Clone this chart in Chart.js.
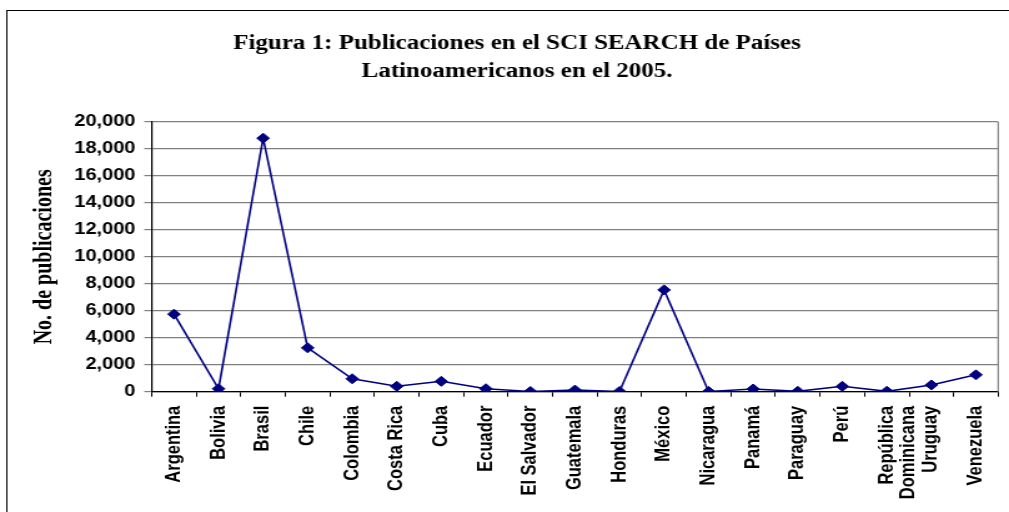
<!DOCTYPE html>
<html>
<head>
<meta charset="utf-8">
<script src="https://cdn.jsdelivr.net/npm/chart.js@4"></script>
<style>
  html, body { margin: 0; padding: 0; background: #ffffff; overflow: hidden; }
  #c { display: block; width: 1009px; height: 512px; }
</style>
</head>
<body>
<canvas id="c" width="808" height="512" style="width:1009px;height:512px;"></canvas>
<script>
// ---- data ----
const categories = [
  'Argentina', 'Bolivia', 'Brasil', 'Chile', 'Colombia', 'Costa Rica', 'Cuba',
  'Ecuador', 'El Salvador', 'Guatemala', 'Honduras', 'México', 'Nicaragua',
  'Panamá', 'Paraguay', 'Perú', ['República', 'Dominicana'], 'Uruguay', 'Venezuela'
];
const publicaciones = [
  5750, 220, 18800, 3250, 960, 400, 770,
  220, 20, 120, 20, 7550, 20,
  200, 30, 400, 30, 500, 1250
];
const yTicksMin = 0;
const yTicksMax = 20000;
const yTicksStep = 2000;
const titleLines = ['Figura 1: Publicaciones en el SCI SEARCH de Países', 'Latinoamericanos en el 2005.'];
const yAxisTitle = 'No. de publicaciones';

// ---- decoration plugin: outer chart border and right plot border ----
const framePlugin = {
  id: 'frame',
  beforeDraw(chart) {
    const ctx = chart.ctx;
    ctx.save();
    ctx.fillStyle = '#ffffff';
    ctx.fillRect(0, 0, chart.width, chart.height);
    ctx.strokeStyle = '#000000';
    ctx.lineWidth = 1;
    ctx.strokeRect(5.5, 10.5, chart.width + 20, chart.height + 20);
    ctx.restore();
  },
  beforeDatasetsDraw(chart) {
    const a = chart.chartArea;
    const ctx = chart.ctx;
    ctx.save();
    ctx.strokeStyle = '#808080';
    ctx.lineWidth = 1.2;
    ctx.beginPath();
    ctx.moveTo(a.right, a.top);
    ctx.lineTo(a.right, a.bottom);
    ctx.stroke();
    ctx.restore();
  }
};

new Chart(document.getElementById('c'), {
  type: 'line',
  data: {
    labels: categories,
    datasets: [{
      data: publicaciones,
      borderColor: '#000080',
      backgroundColor: '#000080',
      borderWidth: 1.6,
      pointStyle: 'rectRot',
      pointRadius: 5,
      pointBorderWidth: 1,
      pointBackgroundColor: '#000080',
      pointBorderColor: '#000080',
      tension: 0,
      fill: false
    }]
  },
  options: {
    responsive: false,
    animation: false,
    devicePixelRatio: 1,
    layout: { padding: { left: 21, right: 1, top: 0, bottom: 0 } },
    plugins: {
      legend: { display: false },
      tooltip: { enabled: false },
      title: {
        display: true,
        text: titleLines,
        color: '#000000',
        font: { family: 'Liberation Serif', size: 20, weight: 'bold', lineHeight: 1.4 },
        padding: { top: 29.5, bottom: 36.5 }
      }
    },
    scales: {
      x: {
        type: 'category',
        offset: true,
        afterFit(scale) { scale.height = 120.3; },
        grid: {
          display: true,
          drawOnChartArea: false,
          drawTicks: true,
          tickLength: 5,
          color: '#000000',
          offset: true
        },
        border: { display: true, color: '#000000', width: 1.2 },
        ticks: {
          autoSkip: false,
          minRotation: 90,
          maxRotation: 90,
          padding: 9,
          color: '#000000',
          font: { family: 'Liberation Sans', size: 16.5, weight: 'bold', lineHeight: 1.05 }
        }
      },
      y: {
        min: yTicksMin,
        max: yTicksMax,
        afterFit(scale) { scale.width = 100.5; },
        grid: {
          color: '#808080',
          lineWidth: 1.2,
          tickLength: 6,
          drawTicks: true
        },
        border: { display: true, color: '#000000', width: 1.2 },
        ticks: {
          stepSize: yTicksStep,
          padding: 7,
          color: '#000000',
          font: { family: 'Liberation Sans', size: 16, weight: 'bold' },
          callback: (v) => Number(v).toLocaleString('en-US')
        },
        title: {
          display: true,
          text: yAxisTitle,
          color: '#000000',
          font: { family: 'Liberation Serif', size: 20, weight: 'bold', lineHeight: 1.2 },
          padding: { top: 3, bottom: 12 }
        }
      }
    }
  },
  plugins: [framePlugin]
});
</script>
</body>
</html>
